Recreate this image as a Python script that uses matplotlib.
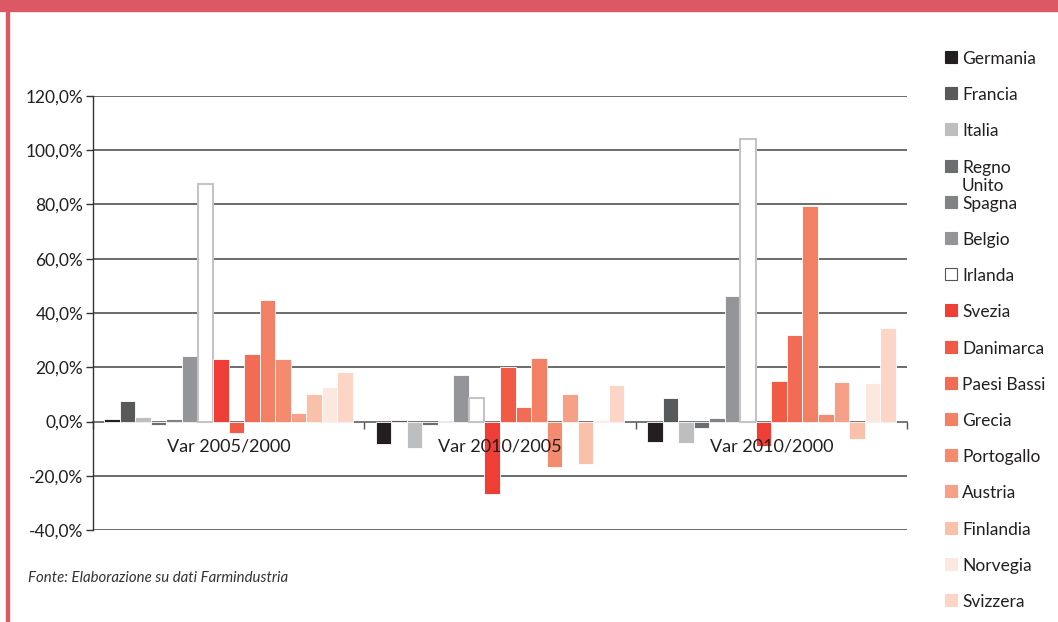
import matplotlib
matplotlib.use("Agg")
import matplotlib.pyplot as plt
from matplotlib.patches import Rectangle
from matplotlib.ticker import FuncFormatter
import numpy as np

plt.rcParams['font.family'] = ['Lato', 'DejaVu Sans']

periods = ["Var 2005/2000", "Var 2010/2005", "Var 2010/2000"]
countries = ["Germania", "Francia", "Italia", "Regno\nUnito", "Spagna", "Belgio",
             "Irlanda", "Svezia", "Danimarca", "Paesi Bassi", "Grecia",
             "Portogallo", "Austria", "Finlandia", "Norvegia", "Svizzera"]

# percentage change per country, one value per period
germania = [0.9, -8.3, -7.5]
francia = [7.7, 0.6, 8.7]
italia = [1.7, -9.9, -7.9]
regno_unito = [-1.2, -1.3, -2.5]
spagna = [0.9, 0.2, 1.2]
belgio = [24.3, 17.2, 46.3]
irlanda = [87.5, 8.6, 104.0]
svezia = [23.1, -26.6, -9.2]
danimarca = [-4.4, 20.2, 14.8]
paesi_bassi = [24.9, 5.3, 31.8]
grecia = [44.7, 23.4, 79.4]
portogallo = [23.1, -16.9, 2.6]
austria = [3.2, 10.3, 14.4]
finlandia = [10.3, -15.5, -6.3]
norvegia = [12.9, 0.7, 14.2]
svizzera = [18.2, 13.4, 34.6]

series = [germania, francia, italia, regno_unito, spagna, belgio, irlanda,
          svezia, danimarca, paesi_bassi, grecia, portogallo, austria,
          finlandia, norvegia, svizzera]

colors = ["#231f20", "#58595b", "#bcbec0", "#6d6e71", "#808285", "#939598",
          "#ffffff", "#ef3e36", "#f15a45", "#f26b55", "#f37f65", "#f48b6f",
          "#f7a088", "#f9c0aa", "#fde8df", "#fcd5c6"]
edges = ["#ffffff"] * len(colors)
edges[6] = "#c4c4c4"

W, H = 1058, 622
fig = plt.figure(figsize=(W / 100, H / 100), dpi=100)

# red frame: band on top and thin rule on the left
fig.patches.append(Rectangle((0, 1 - 11 / H), 1, 11 / H, transform=fig.transFigure,
                             color="#dc5865", zorder=0))
fig.patches.append(Rectangle((6 / W, 0), 3 / W, 1 - 11 / H, transform=fig.transFigure,
                             color="#dc5865", zorder=0))

ax = fig.add_axes([93 / W, 1 - 530 / H, (907 - 93) / W, (530 - 96) / H])

n = len(series)
bw = 0.0573
x = np.arange(len(periods))
for j, (vals, c, ec) in enumerate(zip(series, colors, edges)):
    lw = 1.5 if j == 6 else 0.6
    ax.bar(x + (j - (n - 1) / 2) * bw, vals, width=bw, color=c, edgecolor=ec,
           linewidth=lw, zorder=2)

ax.set_xlim(-0.5, 2.5)
ax.set_ylim(-40, 120)
ax.set_yticks(np.arange(-40, 121, 20))
ax.yaxis.set_major_formatter(FuncFormatter(lambda v, p: f"{v:.1f}%".replace(".", ",")))
ax.tick_params(axis='y', length=5, width=1, color="#333333", labelsize=12.5,
               labelcolor="#231f20", pad=2)
for yv in np.arange(-40, 121, 20):
    if yv != 0:
        ax.axhline(yv, color="#444444", lw=1.1, zorder=0)

for s in ["top", "right"]:
    ax.spines[s].set_visible(False)
ax.spines["left"].set_color("#333333")
ax.spines["left"].set_linewidth(1)
ax.spines["bottom"].set_position(("data", 0))
ax.spines["bottom"].set_color("#777777")
ax.spines["bottom"].set_linewidth(1.4)
ax.spines["bottom"].set_zorder(1)
ax.set_xticks([-0.5, 0.5, 1.5, 2.5])
ax.set_xticklabels([])
ax.tick_params(axis='x', length=5, width=1, color="#555555", direction="out")

for i, lab in enumerate(periods):
    ax.text(i, -9.3, lab, ha="center", va="center", fontsize=13, color="#231f20",
            zorder=5)

# legend
y0, step = 57, 36.2
for j, (name, c, ec) in enumerate(zip(countries, colors, edges)):
    yc = y0 + j * step
    fig.patches.append(Rectangle((945 / W, 1 - (yc + 6) / H), 12 / W, 12 / H,
                                 transform=fig.transFigure, facecolor=c,
                                 edgecolor="#555555" if j == 6 else c,
                                 linewidth=0.8, zorder=3))
    fig.text(962 / W, 1 - (yc - 6) / H, name, ha="left", va="top", fontsize=12.5,
             color="#231f20", linespacing=1.2)

fig.text(28 / W, 1 - 578 / H, "Fonte: Elaborazione su dati Farmindustria",
         ha="left", va="center", fontsize=10.8, style="italic", color="#333333")

fig.savefig("out.png", dpi=100)
